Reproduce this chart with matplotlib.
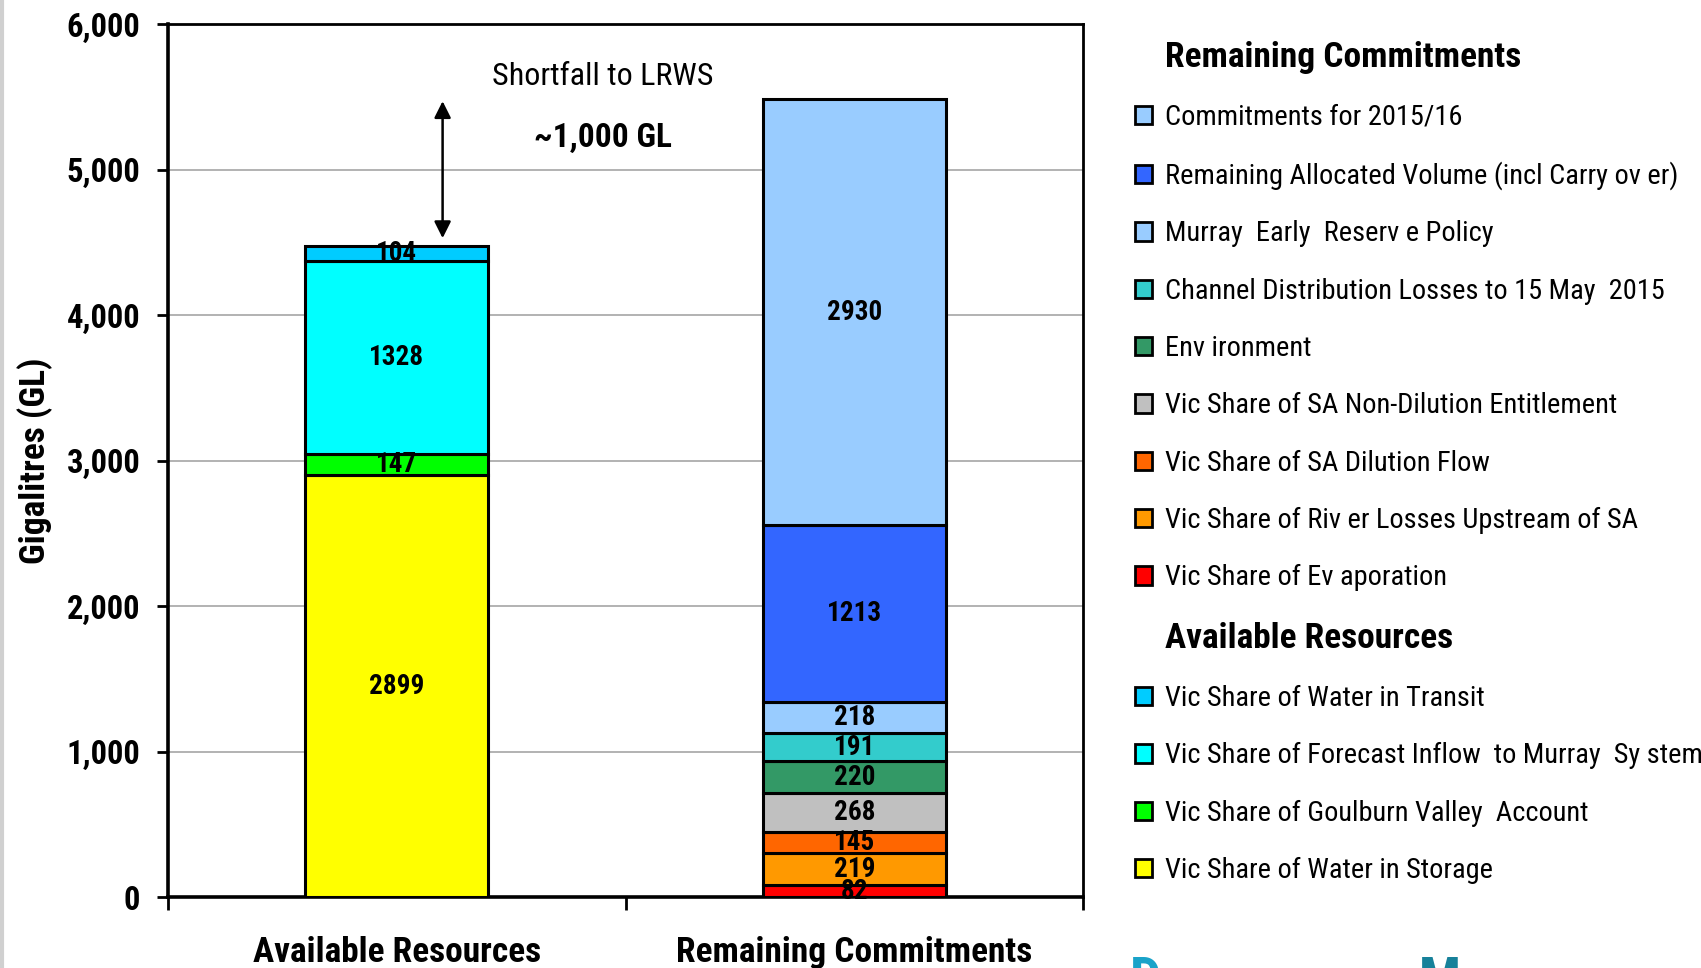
import matplotlib
matplotlib.use("Agg")
import matplotlib.pyplot as plt
from matplotlib.patches import Patch
import numpy as np

plt.rcParams["font.family"] = ["Roboto Condensed", "Liberation Sans", "DejaVu Sans"]

categories = ["Available Resources", "Remaining Commitments"]

# Available Resources, bottom to top
avail_labels = ["Vic Share of Water in Storage", "Vic Share of Goulburn Valley  Account",
                "Vic Share of Forecast Inflow  to Murray  Sy stem", "Vic Share of Water in Transit"]
avail_values = [2899, 147, 1328, 104]
avail_colors = ["#FFFF00", "#00FF00", "#00FFFF", "#00CCFF"]

# Remaining Commitments, bottom to top
commit_labels = ["Vic Share of Ev aporation", "Vic Share of Riv er Losses Upstream of SA",
                 "Vic Share of SA Dilution Flow", "Vic Share of SA Non-Dilution Entitlement",
                 "Env ironment", "Channel Distribution Losses to 15 May  2015",
                 "Murray  Early  Reserv e Policy", "Remaining Allocated Volume (incl Carry ov er)",
                 "Commitments for 2015/16"]
commit_values = [82, 219, 145, 268, 220, 191, 218, 1213, 2930]
commit_colors = ["#FF0000", "#FF9900", "#FF6600", "#C0C0C0", "#339966", "#33CCCC",
                 "#99CCFF", "#3366FF", "#99CCFF"]

fig = plt.figure(figsize=(17.01, 9.68), dpi=100)
ax = fig.add_axes([0.0988, 0.0733, 0.538, 0.9017])

width = 0.4
handles_a, handles_c = [], []

bottom = 0
for lab, v, c in zip(avail_labels, avail_values, avail_colors):
    b = ax.bar(0, v, width, bottom=bottom, color=c, edgecolor="black", linewidth=2.2, zorder=3, label=lab)
    ax.text(0, bottom + v / 2, str(v), ha="center", va="center", fontsize=19.5, fontweight="bold", zorder=4)
    handles_a.append(b[0])
    bottom += v

bottom = 0
for lab, v, c in zip(commit_labels, commit_values, commit_colors):
    b = ax.bar(1, v, width, bottom=bottom, color=c, edgecolor="black", linewidth=2.2, zorder=3, label=lab)
    ax.text(1, bottom + v / 2, str(v), ha="center", va="center", fontsize=19.5, fontweight="bold", zorder=4)
    handles_c.append(b[0])
    bottom += v

ax.set_xlim(-0.5, 1.5)
ax.set_ylim(0, 6000)
yt = np.arange(0, 6001, 1000)
ax.set_yticks(yt)
ax.set_yticklabels([f"{int(t):,}" for t in yt], fontsize=23.5, fontweight="bold")
ax.yaxis.grid(True, color="#A6A6A6", linewidth=1.2, zorder=0)
ax.set_axisbelow(True)
ax.tick_params(axis="y", direction="out", length=8, width=2, pad=12)

ax.set_xticks([0, 1])
ax.set_xticklabels(categories, fontsize=25.5, fontweight="bold")
ax.set_xticks([-0.5, 0.5, 1.5], minor=True)
ax.tick_params(axis="x", which="major", length=0, pad=28)
ax.tick_params(axis="x", which="minor", direction="out", length=9, width=2)

for s in ax.spines.values():
    s.set_linewidth(2)
ax.spines["left"].set_linewidth(2.6)
ax.spines["bottom"].set_linewidth(2.6)

ax.set_ylabel("Gigalitres (GL)", fontsize=25.5, fontweight="bold", labelpad=10)

# shortfall annotation
ax.annotate("", xy=(0.1, 5490), xytext=(0.1, 4510),
            arrowprops=dict(arrowstyle="<|-|>", color="black", lw=1.8, mutation_scale=25), zorder=5)
ax.text(0.45, 5640, "Shortfall to LRWS", ha="center", va="center", fontsize=23)
ax.text(0.45, 5220, "~1,000 GL", ha="center", va="center", fontsize=24, fontweight="bold")

# legend with two group headers
blank = Patch(facecolor="none", edgecolor="none")
handles = [blank] + handles_c[::-1] + [blank] + handles_a[::-1]
labels = ["Remaining Commitments"] + commit_labels[::-1] + ["Available Resources"] + avail_labels[::-1]
leg = fig.legend(handles, labels, loc="upper left", bbox_to_anchor=(0.667, 0.958), frameon=False,
                 fontsize=20.4, handlelength=0.62, handleheight=0.62, handletextpad=0.46,
                 labelspacing=1.07, borderaxespad=0, borderpad=0)
for t in leg.get_texts():
    if t.get_text() in ("Remaining Commitments", "Available Resources"):
        t.set_fontweight("bold")
        t.set_fontsize(25.5)
for h in leg.legend_handles:
    if h.get_edgecolor()[3] > 0:
        h.set_linewidth(2)

# cut-off logo at the bottom right and the grey edge on the left
fig.text(0.664, -0.03, "D", fontsize=40, fontweight="bold", color="#1AA3C9")
fig.text(0.834, -0.03, "M", fontsize=40, fontweight="bold", color="#17819A")
fig.add_artist(plt.Line2D([0.001, 0.001], [0, 1], color="#D0D0D0", lw=3, transform=fig.transFigure))

fig.savefig("out.png", dpi=100)
